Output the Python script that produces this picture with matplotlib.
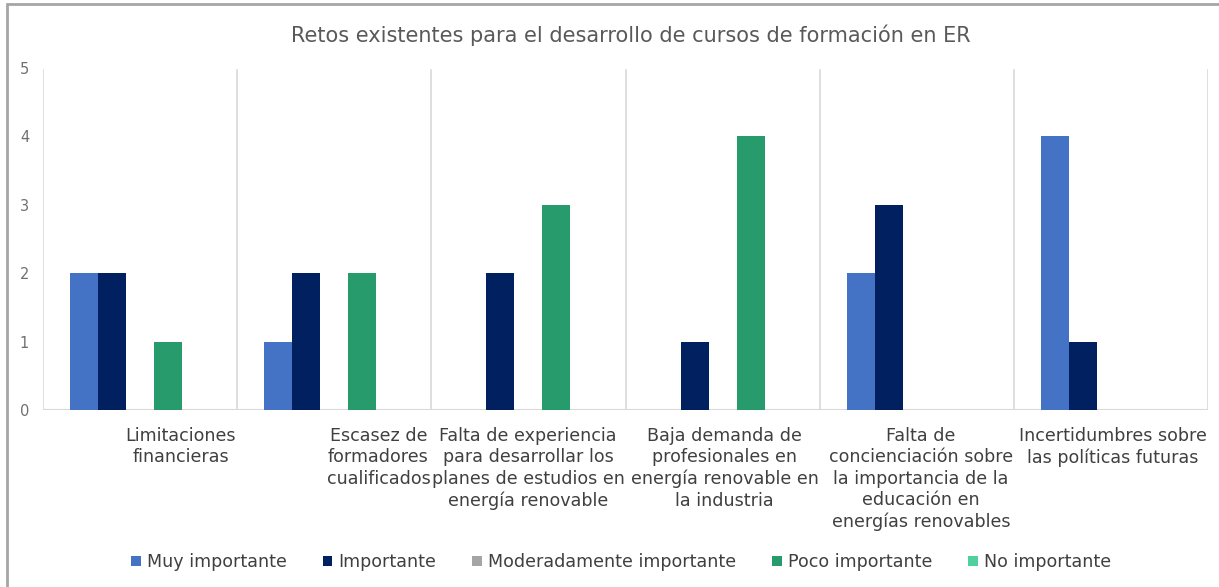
import matplotlib
matplotlib.use("Agg")
import matplotlib.pyplot as plt
from matplotlib.patches import Rectangle
import numpy as np

categories = [
    "Limitaciones\nfinancieras",
    "Escasez de\nformadores\ncualificados",
    "Falta de experiencia\npara desarrollar los\nplanes de estudios en\nenergía renovable",
    "Baja demanda de\nprofesionales en\nenergía renovable en\nla industria",
    "Falta de\nconcienciación sobre\nla importancia de la\neducación en\nenergías renovables",
    "Incertidumbres sobre\nlas políticas futuras",
]
series_names = ["Muy importante", "Importante", "Moderadamente importante",
                "Poco importante", "No importante"]
muy_importante = [2, 1, 0, 0, 2, 4]
importante = [2, 2, 2, 1, 3, 1]
moderadamente = [0, 0, 0, 0, 0, 0]
poco_importante = [1, 2, 3, 4, 0, 0]
no_importante = [0, 0, 0, 0, 0, 0]
yticks = [0, 1, 2, 3, 4, 5]
title = "Retos existentes para el desarrollo de cursos de formación en ER"

colors = ["#4472C4", "#002060", "#A5A5A5", "#279B6B", "#50D09C"]
txt = "#595959"
font = "DejaVu Sans"
plt.rcParams['font.family'] = [font]

fig = plt.figure(figsize=(12.19, 5.87), dpi=100)
ax = fig.add_axes([43/1219, 1-410/587, (1208-43)/1219, (410-68)/587])

data = [muy_importante, importante, moderadamente, poco_importante, no_importante]
x = np.arange(len(categories))
w = 0.1444
for k, (vals, name, c) in enumerate(zip(data, series_names, colors)):
    ax.bar(x + (k - 2) * w, vals, width=w, color=c, label=name, zorder=3)

ax.set_xlim(-0.5, len(categories) - 0.5)
ax.set_ylim(0, 5)
for b in np.arange(-0.5, len(categories), 1.0):
    ax.axvline(b, ymax=0.995, color="#D9D9D9", lw=1.2, zorder=1)
ax.axhline(0, color="#D9D9D9", lw=1.5, zorder=2)
for s in ax.spines.values():
    s.set_visible(False)
ax.set_xticks([])
ax.set_yticks(yticks)
ax.tick_params(axis='y', length=0, pad=10, labelsize=10.5, labelcolor="#707070")

for i, lab in enumerate(categories):
    ax.text(i + 0.495, -0.25, lab, ha='right', va='top', multialignment='center',
            fontsize=12.6, color="#404040", linespacing=1.24)

fig.text(631/1219, 1-35/587, title, ha='center', va='center', fontsize=15, color=txt)

leg = fig.legend(loc='center', bbox_to_anchor=(621/1219, 1-562/587), ncol=5, frameon=False,
                 fontsize=12.6, handlelength=0.55, handleheight=0.55, handletextpad=0.35,
                 columnspacing=2.05, labelcolor="#404040")

fig.patches.append(Rectangle((7/1219, -0.1), 1.2, 1 - 3.5/587 + 0.1, transform=fig.transFigure,
                             fill=False, edgecolor="#A6A6A6", lw=2))

fig.savefig("out.png", dpi=100, facecolor="white")
